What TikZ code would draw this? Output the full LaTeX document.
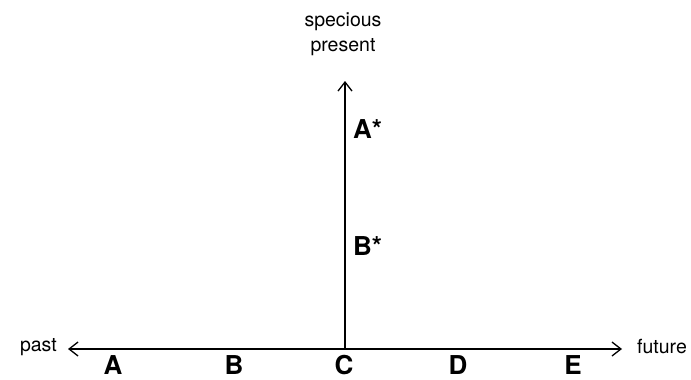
\documentclass[tikz,border=0pt]{standalone}
\usepackage{fontspec}
\setmainfont{TeX Gyre Heros}
\usetikzlibrary{arrows.meta}
\begin{document}
\begin{tikzpicture}[x=1pt,y=-1pt,
  axis/.style={line width=1.3pt,-{Straight Barb[length=9pt,width=14pt,line width=1.3pt]}},
  small/.style={font=\fontsize{19.5}{25}\selectfont,align=center,inner sep=0pt},
  big/.style={font=\fontsize{26}{30}\selectfont\bfseries,inner sep=0pt}]
\useasboundingbox (0,0) rectangle (691,380);
\coordinate (o) at (345,349);
\coordinate (left) at (68,349);
\coordinate (right) at (622,349);
\coordinate (top) at (345,81);
\draw[axis] (o) -- (left);
\draw[axis] (o) -- (right);
\draw[axis] (o) -- (top);
\node[small] (sp) at (343,34) {specious\\present};
\node[small,anchor=east] (past) at (57,347) {past};
\node[small,anchor=west] (fut) at (637,347) {future};
\node[big] (A) at (113,365) {A};
\node[big] (B) at (234,365) {B};
\node[big] (C) at (344,365) {C};
\node[big] (D) at (458,365) {D};
\node[big] (E) at (573,365) {E};
\node[big,anchor=west] (As) at (353,129) {A*};
\node[big,anchor=west] (Bs) at (353,246) {B*};
\end{tikzpicture}
\end{document}
